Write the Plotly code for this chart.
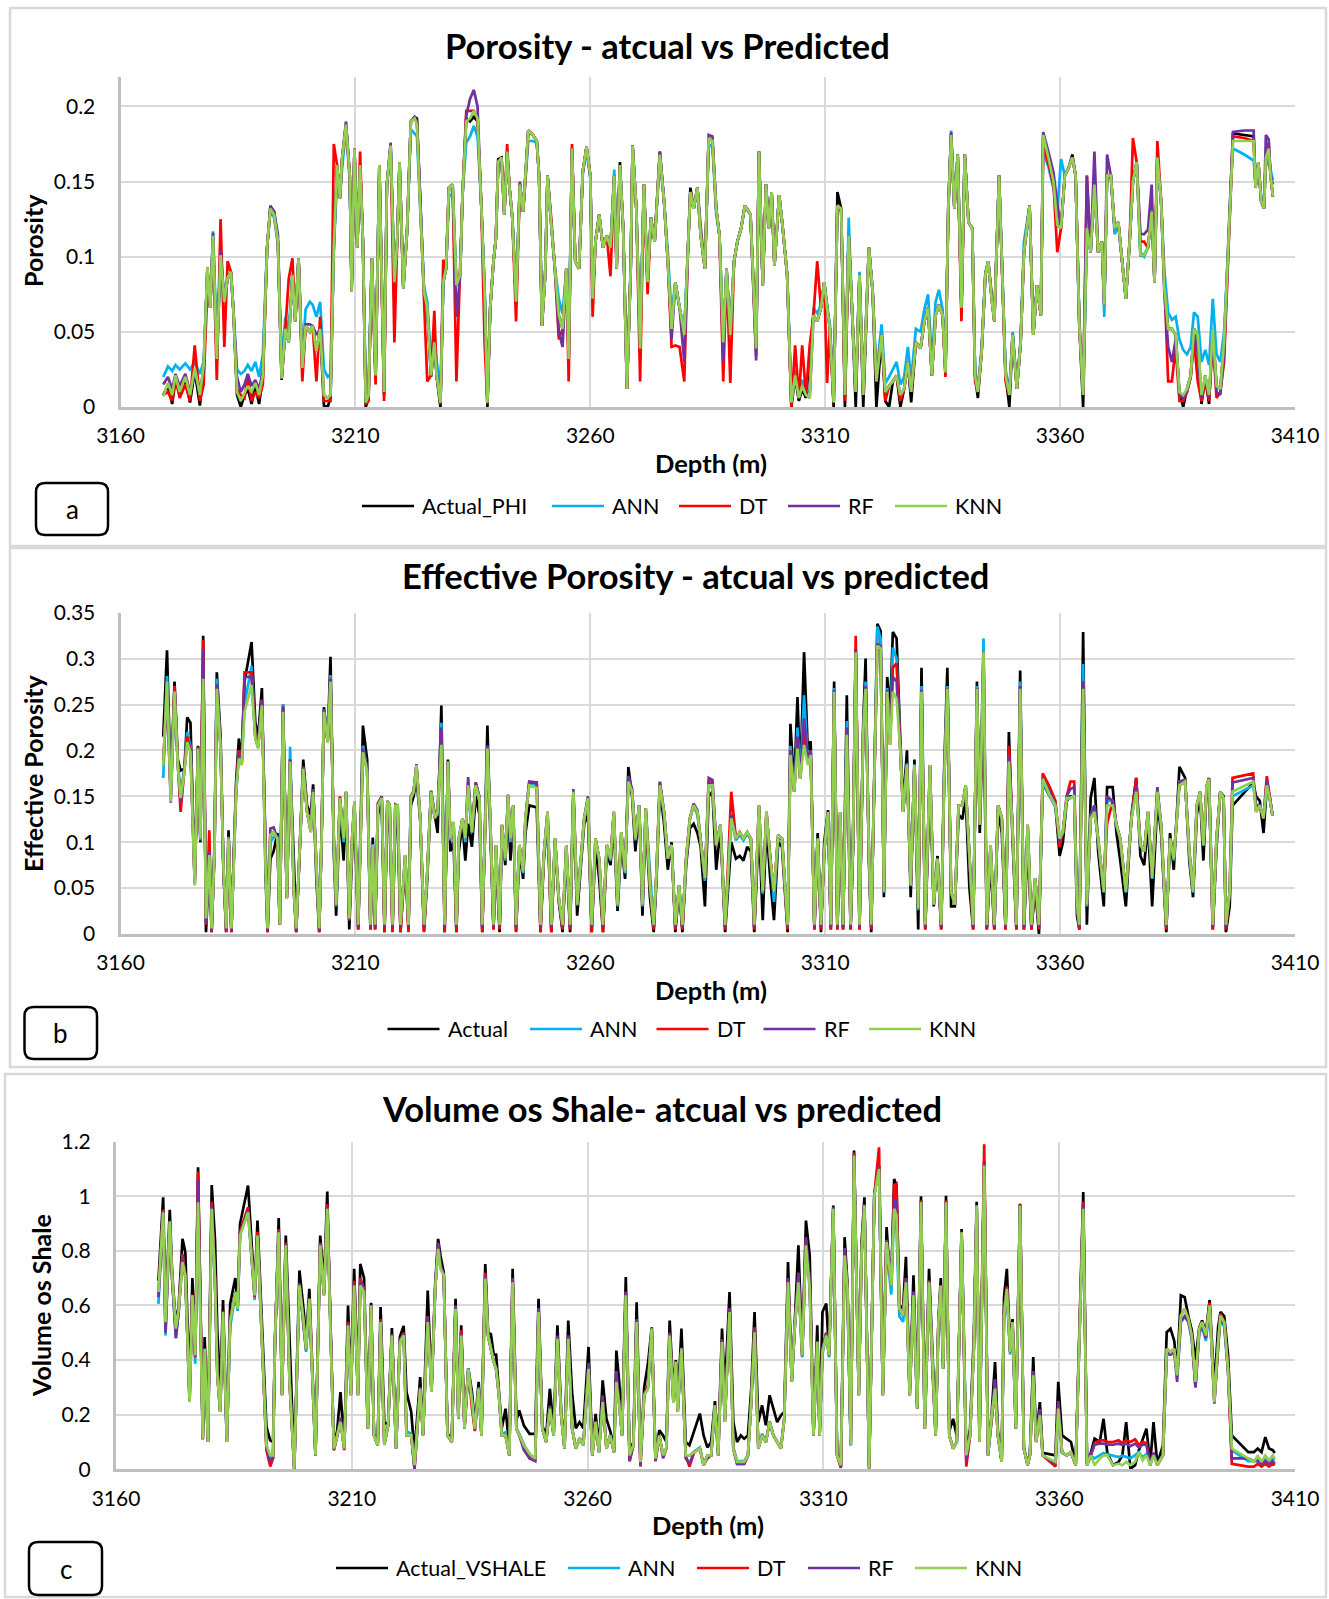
import plotly.graph_objects as go

W, H = 1329, 1599

# ---------------- Panel a : Porosity ----------------
A_DEPTH = [
    3169.1, 3170.1, 3171.0, 3171.7, 3172.6, 3173.8, 3174.8, 3175.8, 3176.9, 3177.7,
    3178.5, 3179.1, 3179.7, 3180.5, 3181.3, 3182.1, 3182.8, 3183.5, 3184.0, 3184.8,
    3185.6, 3186.4, 3187.1, 3187.9, 3188.7, 3189.5, 3190.3, 3191.2, 3191.9, 3192.7,
    3193.5, 3194.3, 3195.1, 3195.8, 3196.6, 3197.2, 3197.9, 3198.7, 3199.4, 3200.3,
    3200.9, 3201.7, 3202.5, 3203.3, 3204.1, 3204.7, 3205.4, 3206.1, 3206.7, 3207.2,
    3208.0, 3208.8, 3209.2, 3209.8, 3210.4, 3211.0, 3211.6, 3212.2, 3212.8, 3213.5,
    3214.3, 3215.1, 3216.1, 3216.7, 3217.5, 3218.3, 3218.9, 3219.4, 3220.2, 3221.0,
    3221.8, 3222.6, 3223.1, 3223.8, 3224.6, 3225.3, 3226.1, 3226.8, 3227.3, 3228.1,
    3228.7, 3229.3, 3229.9, 3230.7, 3231.5, 3232.3, 3232.8, 3233.6, 3234.4, 3235.2,
    3236.0, 3236.8, 3237.5, 3238.1, 3238.7, 3239.4, 3239.9, 3240.4, 3241.1, 3241.7,
    3242.3, 3242.8, 3243.4, 3244.2, 3245.0, 3245.7, 3246.2, 3246.8, 3247.8, 3248.6,
    3249.1, 3249.7, 3250.4, 3250.9, 3251.7, 3252.5, 3253.3, 3254.1, 3254.9, 3255.4,
    3256.1, 3256.8, 3257.6, 3258.4, 3259.2, 3260.0, 3260.5, 3261.1, 3261.9, 3262.7,
    3263.5, 3264.3, 3265.1, 3265.6, 3266.3, 3267.0, 3267.8, 3268.6, 3269.0, 3269.8,
    3270.6, 3271.4, 3272.2, 3272.9, 3273.7, 3274.8, 3275.7, 3276.5, 3277.3, 3278.1,
    3279.0, 3280.0, 3280.8, 3281.3, 3282.0, 3282.8, 3283.5, 3284.4, 3285.2, 3286.0,
    3286.8, 3287.5, 3288.3, 3289.0, 3289.8, 3290.6, 3291.3, 3292.1, 3292.9, 3294.1,
    3295.3, 3295.9, 3296.7, 3297.4, 3298.0, 3298.6, 3299.2, 3300.2, 3300.9, 3301.9,
    3302.8, 3303.6, 3304.4, 3305.1, 3305.9, 3306.7, 3307.5, 3308.3, 3309.1, 3309.8,
    3310.4, 3311.0, 3311.8, 3312.6, 3313.4, 3314.2, 3315.0, 3315.7, 3316.5, 3317.3,
    3318.1, 3319.3, 3320.1, 3320.9, 3322.0, 3322.8, 3323.6, 3324.4, 3325.2, 3326.0,
    3326.8, 3327.6, 3328.3, 3329.3, 3330.3, 3331.1, 3331.9, 3332.7, 3333.5, 3334.2,
    3335.0, 3335.6, 3336.2, 3336.8, 3337.5, 3338.2, 3339.0, 3339.7, 3340.5, 3341.3,
    3341.9, 3342.5, 3343.3, 3344.1, 3344.7, 3345.5, 3346.0, 3347.0, 3347.7, 3348.4,
    3349.2, 3349.9, 3350.8, 3351.6, 3352.3, 3353.5, 3354.3, 3355.1, 3355.9, 3356.4,
    3357.5, 3358.6, 3359.4, 3360.2, 3361.0, 3361.8, 3362.6, 3363.3, 3364.1, 3364.9,
    3365.7, 3366.5, 3367.3, 3368.1, 3368.9, 3369.4, 3370.0, 3370.8, 3371.6, 3372.4,
    3373.2, 3374.0, 3374.8, 3375.5, 3376.3, 3377.1, 3377.9, 3378.7, 3379.5, 3380.1,
    3380.7, 3381.5, 3382.2, 3383.0, 3383.8, 3384.6, 3385.4, 3386.2, 3387.0, 3387.8,
    3388.5, 3389.3, 3390.1, 3390.9, 3391.7, 3392.5, 3393.3, 3394.1, 3394.9, 3395.7,
    3396.4, 3396.8, 3399.2, 3401.2, 3401.6, 3402.2, 3402.8, 3403.4, 3403.8, 3404.4,
    3404.8, 3405.3]
A_ACTUAL = [
    .008, .014, .002, .018, .008, .018, .003, .024, .001, .026,
    .092, .066, .112, .030, .100, .070, .085, .090, .066, .008,
    .000, .008, .012, .002, .014, .002, .020, .106, .133, .130,
    .110, .018, .052, .043, .088, .057, .099, .025, .054, .050,
    .054, .037, .052, .001, .000, .006, .106, .161, .139, .166,
    .188, .154, .077, .172, .106, .161, .110, .000, .006, .099,
    .020, .161, .008, .148, .174, .083, .110, .163, .079, .117,
    .190, .193, .192, .132, .077, .066, .020, .043, .020, .000,
    .083, .092, .146, .148, .081, .088, .141, .192, .190, .193,
    .190, .134, .077, .000, .066, .097, .112, .165, .166, .128,
    .170, .146, .126, .070, .148, .130, .152, .184, .181, .177,
    .154, .054, .088, .154, .121, .090, .061, .052, .092, .032,
    .172, .097, .092, .157, .173, .154, .072, .110, .128, .106,
    .114, .106, .154, .092, .163, .119, .012, .092, .174, .132,
    .039, .148, .083, .126, .110, .170, .137, .097, .052, .083,
    .066, .048, .106, .146, .132, .146, .114, .092, .179, .177,
    .132, .114, .043, .092, .048, .097, .110, .119, .134, .128,
    .039, .170, .081, .148, .119, .143, .094, .141, .121, .088,
    .000, .020, .004, .012, .006, .035, .061, .057, .066, .083,
    .066, .052, .000, .143, .132, .000, .114, .066, .000, .088,
    .000, .106, .077, .000, .048, .004, .000, .017, .021, .000,
    .012, .030, .003, .043, .039, .057, .066, .021, .061, .068,
    .061, .023, .132, .181, .132, .168, .066, .168, .123, .119,
    .021, .006, .037, .088, .097, .070, .057, .154, .088, .021,
    .000, .048, .012, .043, .103, .134, .048, .081, .061, .181,
    .168, .152, .121, .119, .154, .159, .168, .154, .054, .000,
    .119, .103, .148, .103, .110, .068, .154, .154, .119, .123,
    .097, .072, .110, .150, .163, .101, .101, .106, .130, .083,
    .166, .137, .079, .052, .052, .048, .010, .000, .012, .021,
    .052, .048, .002, .021, .002, .052, .014, .012, .043, .097,
    .150, .182, .181, .180, .146, .163, .137, .132, .166, .172,
    .154, .140]
A_ANN = [
    .020, .027, .024, .028, .025, .029, .025, .030, .022, .030,
    .090, .066, .117, .040, .100, .072, .086, .088, .066, .025,
    .022, .024, .028, .024, .030, .020, .035, .106, .130, .126,
    .108, .030, .060, .050, .088, .060, .099, .030, .065, .070,
    .068, .060, .070, .025, .020, .022, .106, .150, .139, .160,
    .185, .150, .080, .170, .106, .158, .110, .010, .015, .099,
    .030, .158, .015, .148, .172, .085, .110, .160, .085, .117,
    .185, .182, .180, .132, .080, .070, .030, .050, .030, .010,
    .083, .092, .140, .142, .081, .088, .140, .176, .180, .187,
    .180, .134, .080, .010, .066, .097, .112, .160, .163, .128,
    .168, .146, .126, .075, .148, .130, .150, .177, .177, .176,
    .154, .060, .090, .154, .121, .092, .072, .062, .092, .040,
    .170, .097, .092, .157, .170, .152, .075, .110, .128, .106,
    .114, .106, .158, .092, .160, .119, .015, .092, .172, .132,
    .042, .148, .083, .126, .110, .165, .137, .103, .062, .083,
    .066, .052, .106, .143, .132, .146, .114, .092, .175, .173,
    .128, .114, .045, .092, .050, .097, .110, .119, .134, .128,
    .040, .168, .081, .148, .119, .143, .094, .141, .121, .088,
    .008, .025, .010, .018, .012, .010, .066, .062, .068, .083,
    .066, .055, .008, .130, .132, .012, .126, .066, .012, .090,
    .012, .106, .077, .022, .055, .016, .020, .025, .030, .015,
    .020, .040, .018, .052, .050, .065, .075, .030, .070, .078,
    .065, .028, .128, .184, .132, .168, .066, .168, .123, .119,
    .025, .012, .040, .090, .097, .070, .060, .154, .088, .025,
    .010, .050, .015, .045, .110, .134, .050, .081, .061, .170,
    .160, .145, .130, .165, .154, .159, .166, .154, .058, .010,
    .119, .103, .145, .103, .110, .060, .154, .154, .115, .120,
    .097, .072, .110, .150, .163, .103, .100, .106, .128, .083,
    .166, .137, .090, .063, .058, .060, .045, .038, .035, .040,
    .063, .060, .030, .038, .028, .072, .035, .030, .050, .097,
    .150, .172, .168, .164, .150, .160, .140, .138, .160, .165,
    .158, .151]
A_DT = [
    .008, .010, .004, .020, .006, .015, .004, .041, .004, .015,
    .080, .066, .112, .018, .125, .040, .097, .090, .066, .012,
    .008, .006, .020, .004, .010, .006, .015, .106, .132, .128,
    .110, .019, .052, .085, .099, .057, .099, .017, .054, .050,
    .054, .017, .060, .004, .004, .004, .175, .161, .139, .166,
    .188, .154, .077, .172, .106, .170, .110, .002, .004, .099,
    .015, .161, .004, .148, .174, .043, .110, .163, .079, .117,
    .190, .192, .190, .132, .077, .017, .021, .064, .021, .002,
    .098, .092, .146, .148, .017, .088, .141, .197, .197, .197,
    .192, .134, .043, .002, .066, .097, .112, .163, .166, .128,
    .175, .146, .126, .057, .148, .130, .152, .184, .181, .177,
    .154, .054, .088, .154, .125, .090, .045, .052, .092, .017,
    .175, .097, .092, .157, .173, .154, .060, .110, .128, .106,
    .114, .087, .154, .092, .160, .119, .012, .092, .174, .132,
    .017, .148, .075, .126, .110, .168, .137, .097, .040, .041,
    .040, .017, .106, .143, .132, .146, .114, .092, .179, .177,
    .132, .114, .017, .092, .016, .097, .110, .119, .134, .128,
    .034, .170, .081, .148, .119, .143, .094, .141, .121, .088,
    .000, .041, .006, .041, .008, .041, .061, .097, .066, .083,
    .016, .052, .003, .134, .132, .004, .114, .066, .010, .088,
    .008, .106, .077, .017, .048, .004, .014, .017, .021, .004,
    .012, .030, .010, .043, .039, .057, .066, .021, .061, .068,
    .061, .020, .132, .181, .132, .168, .057, .168, .123, .119,
    .017, .010, .037, .088, .097, .070, .057, .154, .088, .017,
    .008, .048, .012, .043, .103, .134, .048, .081, .061, .175,
    .162, .148, .103, .119, .154, .159, .166, .154, .054, .008,
    .154, .103, .148, .103, .110, .068, .154, .154, .119, .123,
    .097, .072, .110, .179, .163, .110, .110, .106, .130, .083,
    .177, .137, .083, .017, .017, .040, .004, .004, .010, .020,
    .045, .017, .004, .017, .004, .045, .006, .010, .030, .097,
    .150, .180, .179, .177, .146, .163, .137, .132, .167, .176,
    .154, .140]
A_RF = [
    .015, .020, .012, .022, .014, .022, .010, .022, .012, .024,
    .093, .066, .116, .032, .105, .070, .086, .090, .066, .020,
    .010, .015, .022, .014, .018, .012, .024, .106, .134, .130,
    .115, .019, .052, .043, .088, .057, .099, .026, .055, .055,
    .054, .048, .052, .008, .006, .008, .106, .161, .139, .166,
    .190, .154, .077, .172, .106, .161, .110, .003, .008, .099,
    .021, .161, .010, .148, .176, .083, .110, .163, .079, .117,
    .190, .193, .190, .132, .077, .066, .021, .043, .021, .003,
    .083, .092, .146, .148, .060, .088, .141, .194, .205, .211,
    .200, .134, .077, .003, .066, .097, .112, .163, .166, .128,
    .170, .146, .126, .070, .150, .130, .152, .184, .181, .177,
    .154, .054, .088, .154, .121, .090, .050, .040, .092, .032,
    .172, .097, .092, .155, .173, .154, .072, .110, .128, .106,
    .114, .106, .154, .092, .160, .119, .012, .092, .174, .132,
    .039, .148, .083, .126, .110, .170, .137, .097, .045, .083,
    .066, .030, .106, .143, .132, .146, .120, .092, .181, .180,
    .132, .114, .030, .092, .048, .097, .110, .119, .134, .128,
    .031, .170, .081, .148, .119, .143, .094, .141, .121, .088,
    .003, .021, .006, .014, .008, .006, .061, .057, .066, .083,
    .066, .052, .003, .134, .132, .008, .114, .066, .010, .088,
    .008, .106, .077, .017, .048, .010, .014, .017, .021, .008,
    .012, .030, .010, .043, .039, .057, .066, .021, .061, .068,
    .061, .023, .134, .183, .132, .168, .066, .168, .123, .119,
    .021, .010, .037, .088, .097, .070, .057, .154, .088, .021,
    .008, .048, .012, .043, .103, .134, .048, .081, .061, .183,
    .170, .156, .135, .119, .154, .159, .166, .154, .054, .008,
    .154, .103, .170, .103, .110, .068, .168, .154, .119, .123,
    .097, .072, .110, .150, .163, .115, .115, .118, .148, .083,
    .166, .137, .075, .040, .030, .045, .008, .006, .010, .020,
    .050, .035, .006, .020, .006, .050, .010, .008, .035, .097,
    .150, .183, .184, .184, .146, .163, .137, .132, .181, .178,
    .154, .148]
A_KNN = [
    .007, .016, .008, .021, .010, .020, .008, .026, .008, .028,
    .093, .066, .114, .032, .101, .070, .086, .090, .066, .010,
    .004, .010, .014, .010, .016, .008, .021, .106, .132, .128,
    .110, .019, .052, .043, .088, .057, .099, .026, .054, .050,
    .054, .037, .052, .008, .006, .008, .106, .161, .139, .166,
    .188, .154, .077, .172, .106, .161, .110, .003, .008, .099,
    .021, .161, .010, .148, .174, .083, .110, .163, .079, .117,
    .190, .192, .188, .132, .077, .066, .021, .043, .021, .003,
    .083, .092, .146, .148, .081, .088, .141, .190, .192, .197,
    .192, .134, .077, .003, .066, .097, .112, .163, .166, .128,
    .170, .146, .126, .070, .148, .130, .152, .184, .181, .177,
    .154, .054, .088, .154, .121, .090, .061, .052, .092, .032,
    .172, .097, .092, .157, .173, .154, .072, .110, .128, .106,
    .114, .106, .154, .092, .161, .119, .012, .092, .174, .132,
    .039, .148, .083, .126, .110, .168, .137, .097, .052, .083,
    .066, .048, .106, .143, .132, .146, .114, .092, .179, .177,
    .132, .114, .043, .092, .048, .097, .110, .119, .134, .128,
    .039, .170, .081, .148, .119, .143, .094, .141, .121, .088,
    .003, .021, .006, .014, .008, .006, .061, .057, .066, .083,
    .066, .052, .003, .134, .132, .008, .114, .066, .010, .088,
    .008, .106, .077, .017, .048, .010, .014, .017, .021, .008,
    .012, .030, .010, .043, .039, .057, .066, .021, .061, .068,
    .061, .023, .132, .181, .132, .168, .066, .168, .123, .119,
    .021, .010, .037, .088, .097, .070, .057, .154, .088, .021,
    .008, .048, .012, .043, .103, .134, .048, .081, .061, .181,
    .166, .150, .121, .119, .154, .159, .166, .154, .054, .008,
    .119, .103, .148, .103, .110, .068, .154, .154, .119, .123,
    .097, .072, .110, .150, .163, .101, .101, .106, .130, .083,
    .166, .137, .079, .052, .052, .048, .010, .008, .012, .021,
    .052, .048, .008, .021, .008, .052, .014, .012, .043, .097,
    .150, .177, .177, .177, .146, .163, .137, .132, .166, .172,
    .154, .140]

# ---------------- Panel b : Effective porosity ----------------
B_DEPTH = [
    3169.1, 3169.9, 3170.7, 3171.5, 3172.2, 3172.8, 3173.6, 3174.2, 3174.9, 3175.8,
    3176.5, 3177.0, 3177.6, 3178.2, 3178.9, 3179.4, 3180.0, 3180.5, 3181.3, 3181.9,
    3182.5, 3183.0, 3183.6, 3184.0, 3184.6, 3185.2, 3185.8, 3186.4, 3187.9, 3188.7,
    3189.3, 3190.1, 3190.9, 3191.3, 3191.9, 3192.6, 3193.4, 3193.9, 3194.6, 3195.4,
    3196.1, 3196.9, 3197.4, 3198.2, 3198.9, 3199.7, 3200.5, 3201.0, 3201.7, 3202.3,
    3202.8, 3203.3, 3204.1, 3204.7, 3205.4, 3205.9, 3206.7, 3207.5, 3208.0, 3208.7,
    3209.3, 3209.8, 3210.6, 3211.6, 3212.5, 3213.2, 3213.7, 3214.2, 3214.8, 3215.6,
    3216.2, 3216.8, 3217.3, 3217.9, 3218.5, 3219.0, 3219.6, 3220.6, 3221.3, 3221.8,
    3222.4, 3223.0, 3223.8, 3224.6, 3225.3, 3226.1, 3226.9, 3227.5, 3228.3, 3229.0,
    3229.7, 3230.2, 3230.9, 3231.5, 3232.0, 3232.8, 3233.4, 3234.0, 3234.8, 3235.6,
    3236.4, 3237.0, 3237.6, 3238.1, 3238.7, 3239.4, 3239.9, 3240.7, 3241.2, 3241.9,
    3242.5, 3243.0, 3243.6, 3244.2, 3244.9, 3245.7, 3246.2, 3247.0, 3248.6, 3249.4,
    3250.1, 3250.9, 3251.7, 3252.5, 3253.3, 3254.1, 3254.9, 3255.7, 3256.4, 3257.2,
    3258.0, 3258.7, 3259.5, 3260.3, 3261.1, 3261.9, 3262.7, 3263.5, 3264.3, 3265.0,
    3265.8, 3266.6, 3267.4, 3268.1, 3268.9, 3269.6, 3270.4, 3271.1, 3271.8, 3272.7,
    3273.5, 3274.1, 3274.8, 3275.7, 3276.5, 3277.3, 3278.1, 3278.9, 3279.6, 3280.4,
    3281.2, 3282.0, 3282.8, 3283.5, 3284.4, 3285.2, 3286.0, 3286.8, 3287.7, 3288.7,
    3290.0, 3291.0, 3291.8, 3292.6, 3293.4, 3294.2, 3294.9, 3295.9, 3296.7, 3297.5,
    3298.3, 3299.1, 3300.0, 3300.8, 3302.0, 3302.6, 3303.4, 3304.1, 3304.7, 3305.5,
    3306.3, 3306.9, 3307.7, 3308.4, 3309.1, 3309.8, 3310.6, 3311.2, 3311.9, 3312.6,
    3313.2, 3313.8, 3314.6, 3315.4, 3315.9, 3316.5, 3317.3, 3318.1, 3318.6, 3319.3,
    3319.8, 3320.4, 3321.1, 3321.8, 3322.5, 3323.2, 3323.8, 3324.4, 3325.2, 3326.0,
    3326.6, 3327.4, 3328.2, 3329.0, 3329.8, 3330.5, 3331.3, 3332.3, 3333.1, 3333.9,
    3334.7, 3335.3, 3336.0, 3336.8, 3337.6, 3338.4, 3339.2, 3339.9, 3340.7, 3341.5,
    3342.3, 3342.9, 3343.7, 3344.4, 3345.2, 3346.0, 3346.8, 3347.6, 3348.4, 3349.1,
    3349.9, 3350.7, 3351.5, 3352.3, 3353.1, 3353.9, 3354.7, 3355.5, 3356.3, 3357.8,
    3359.0, 3359.9, 3360.6, 3361.4, 3362.2, 3363.0, 3363.6, 3364.1, 3364.9, 3365.7,
    3366.5, 3367.3, 3368.1, 3369.3, 3370.0, 3371.2, 3372.0, 3372.8, 3374.0, 3375.2,
    3376.2, 3377.1, 3377.9, 3378.7, 3379.6, 3380.7, 3381.5, 3382.6, 3383.4, 3384.2,
    3385.4, 3386.6, 3387.5, 3388.3, 3389.1, 3389.8, 3390.5, 3391.2, 3391.7, 3392.5,
    3393.3, 3394.1, 3394.8, 3395.3, 3396.1, 3396.7, 3401.1, 3401.7, 3402.5, 3403.3,
    3404.0, 3404.6, 3405.2]
B_ACTUAL = [
    .215, .309, .160, .275, .190, .178, .180, .236, .230, .060,
    .205, .100, .325, .002, .080, .002, .095, .285, .215, .070,
    .002, .113, .002, .060, .165, .213, .190, .275, .318, .230,
    .215, .268, .060, .002, .082, .090, .110, .010, .250, .040,
    .185, .080, .002, .098, .190, .140, .130, .163, .060, .002,
    .105, .247, .210, .302, .090, .020, .135, .080, .150, .005,
    .090, .130, .005, .227, .190, .005, .105, .005, .130, .145,
    .002, .140, .120, .003, .125, .120, .002, .080, .005, .140,
    .150, .170, .125, .003, .060, .156, .130, .110, .249, .002,
    .190, .090, .100, .002, .090, .120, .080, .120, .095, .150,
    .130, .002, .120, .227, .115, .005, .085, .002, .115, .075,
    .145, .080, .130, .003, .090, .060, .110, .140, .138, .002,
    .080, .125, .002, .100, .035, .002, .090, .002, .150, .020,
    .075, .120, .130, .002, .095, .060, .002, .090, .075, .120,
    .025, .100, .060, .182, .150, .090, .140, .020, .130, .040,
    .002, .060, .160, .120, .070, .100, .002, .050, .002, .075,
    .115, .120, .110, .095, .030, .150, .155, .070, .115, .002,
    .100, .082, .085, .080, .095, .090, .002, .120, .015, .120,
    .060, .015, .100, .095, .002, .229, .160, .258, .170, .307,
    .200, .210, .005, .110, .002, .100, .135, .005, .275, .005,
    .130, .005, .260, .005, .090, .310, .005, .230, .300, .080,
    .002, .160, .338, .330, .040, .280, .240, .329, .322, .210,
    .140, .200, .040, .190, .005, .290, .005, .170, .030, .085,
    .005, .175, .290, .030, .030, .130, .125, .150, .050, .005,
    .275, .110, .260, .005, .080, .005, .135, .110, .005, .220,
    .100, .005, .287, .005, .100, .005, .050, .000, .165, .150,
    .140, .085, .100, .145, .150, .150, .020, .005, .329, .010,
    .148, .170, .090, .030, .160, .160, .110, .080, .030, .130,
    .170, .085, .075, .120, .030, .145, .110, .002, .110, .070,
    .182, .170, .080, .040, .130, .150, .080, .160, .170, .005,
    .095, .155, .150, .002, .030, .140, .165, .150, .145, .110,
    .160, .150, .130]
B_ANN = [
    .170, .281, .150, .265, .186, .155, .180, .220, .205, .055,
    .203, .102, .290, .012, .085, .005, .090, .278, .205, .073,
    .005, .106, .005, .058, .150, .200, .186, .250, .292, .218,
    .205, .255, .066, .005, .100, .106, .105, .010, .250, .040,
    .204, .050, .005, .097, .182, .134, .115, .157, .072, .005,
    .104, .245, .210, .282, .100, .030, .146, .100, .154, .015,
    .100, .140, .010, .205, .180, .010, .098, .010, .138, .147,
    .008, .143, .138, .008, .138, .136, .008, .085, .008, .147,
    .155, .182, .126, .008, .066, .155, .127, .130, .230, .008,
    .188, .102, .118, .008, .102, .125, .100, .160, .110, .165,
    .145, .008, .113, .205, .124, .008, .095, .008, .118, .080,
    .150, .100, .138, .008, .096, .066, .124, .164, .162, .008,
    .085, .131, .008, .103, .038, .008, .096, .008, .154, .031,
    .080, .125, .146, .008, .102, .080, .008, .096, .080, .131,
    .030, .108, .066, .172, .155, .102, .140, .030, .136, .065,
    .008, .068, .162, .131, .082, .097, .008, .052, .008, .081,
    .125, .140, .130, .102, .058, .162, .160, .096, .119, .008,
    .126, .102, .108, .102, .110, .102, .008, .138, .044, .131,
    .080, .035, .105, .103, .008, .205, .156, .225, .170, .260,
    .188, .200, .008, .104, .008, .092, .133, .008, .268, .008,
    .132, .008, .232, .008, .092, .310, .008, .222, .275, .088,
    .008, .156, .335, .322, .045, .268, .215, .312, .300, .200,
    .134, .186, .052, .185, .026, .270, .008, .182, .032, .082,
    .008, .170, .270, .045, .032, .140, .140, .160, .080, .008,
    .270, .119, .322, .008, .096, .008, .140, .126, .008, .195,
    .110, .008, .275, .008, .118, .008, .060, .008, .166, .150,
    .138, .104, .110, .147, .148, .151, .030, .008, .294, .030,
    .130, .140, .103, .045, .145, .145, .118, .103, .045, .128,
    .158, .096, .090, .132, .060, .156, .118, .008, .104, .080,
    .166, .166, .088, .045, .140, .155, .096, .160, .165, .008,
    .103, .155, .148, .008, .045, .150, .162, .140, .140, .128,
    .160, .150, .129]
B_DT = [
    .185, .262, .150, .270, .186, .133, .180, .215, .200, .055,
    .204, .104, .320, .010, .113, .002, .088, .270, .204, .072,
    .002, .104, .002, .058, .158, .200, .186, .285, .285, .215,
    .205, .255, .066, .002, .108, .111, .104, .010, .245, .039,
    .190, .046, .002, .097, .182, .134, .112, .155, .075, .002,
    .104, .243, .209, .278, .104, .032, .150, .104, .155, .015,
    .104, .144, .005, .200, .178, .005, .097, .005, .142, .150,
    .002, .144, .140, .002, .140, .140, .002, .086, .002, .148,
    .155, .184, .126, .002, .068, .155, .126, .133, .220, .002,
    .188, .104, .122, .002, .104, .126, .104, .165, .111, .165,
    .148, .002, .111, .200, .126, .005, .097, .005, .119, .082,
    .151, .104, .140, .002, .097, .068, .126, .165, .165, .002,
    .086, .133, .002, .104, .039, .005, .097, .005, .155, .032,
    .082, .126, .148, .002, .104, .082, .002, .097, .082, .133,
    .032, .111, .068, .166, .155, .104, .140, .032, .137, .053,
    .005, .068, .165, .133, .082, .097, .005, .053, .005, .082,
    .126, .140, .133, .104, .061, .165, .165, .097, .119, .005,
    .155, .104, .111, .104, .111, .104, .005, .140, .046, .133,
    .082, .046, .108, .104, .005, .200, .155, .210, .169, .220,
    .188, .200, .005, .104, .005, .090, .133, .005, .264, .005,
    .133, .005, .220, .005, .093, .325, .005, .220, .267, .090,
    .005, .155, .316, .313, .046, .264, .206, .290, .295, .198,
    .133, .184, .053, .184, .028, .264, .005, .184, .032, .082,
    .005, .162, .267, .046, .032, .140, .140, .162, .082, .005,
    .267, .119, .307, .005, .097, .005, .140, .126, .005, .205,
    .111, .005, .267, .005, .119, .005, .061, .005, .175, .160,
    .145, .095, .111, .150, .166, .166, .032, .005, .275, .032,
    .126, .133, .104, .046, .120, .145, .119, .104, .046, .126,
    .170, .097, .090, .133, .061, .155, .119, .005, .104, .082,
    .162, .166, .090, .046, .140, .155, .097, .162, .169, .005,
    .104, .155, .148, .005, .046, .170, .175, .133, .140, .126,
    .172, .148, .129]
B_RF = [
    .185, .268, .143, .264, .184, .142, .178, .210, .200, .056,
    .203, .104, .310, .012, .090, .004, .088, .272, .204, .075,
    .004, .104, .004, .058, .156, .196, .185, .280, .280, .213,
    .203, .255, .068, .004, .115, .116, .104, .010, .248, .039,
    .190, .046, .004, .097, .182, .133, .111, .158, .075, .004,
    .104, .245, .209, .278, .104, .032, .149, .104, .155, .015,
    .104, .144, .008, .202, .178, .008, .097, .008, .142, .150,
    .008, .145, .141, .008, .141, .140, .008, .086, .008, .150,
    .156, .185, .126, .008, .068, .155, .126, .134, .225, .008,
    .188, .104, .122, .008, .104, .126, .104, .171, .111, .165,
    .150, .008, .111, .205, .126, .008, .097, .008, .119, .082,
    .152, .104, .140, .008, .097, .068, .126, .166, .165, .008,
    .086, .133, .008, .104, .039, .008, .097, .008, .158, .032,
    .082, .126, .150, .008, .104, .082, .008, .097, .082, .133,
    .032, .111, .068, .172, .158, .104, .140, .032, .137, .053,
    .008, .068, .166, .133, .082, .097, .008, .053, .008, .082,
    .126, .142, .135, .104, .061, .170, .168, .097, .119, .008,
    .130, .104, .111, .104, .111, .104, .008, .140, .046, .133,
    .082, .046, .108, .104, .008, .200, .155, .215, .169, .235,
    .190, .200, .008, .104, .008, .090, .133, .008, .266, .008,
    .133, .008, .225, .008, .093, .310, .008, .222, .270, .090,
    .008, .155, .316, .313, .046, .266, .215, .280, .275, .198,
    .133, .184, .053, .184, .028, .266, .008, .184, .032, .082,
    .008, .162, .268, .046, .032, .140, .140, .162, .082, .008,
    .268, .119, .305, .008, .097, .008, .140, .126, .008, .195,
    .111, .008, .270, .008, .119, .008, .061, .008, .170, .155,
    .142, .100, .111, .150, .158, .160, .032, .008, .275, .032,
    .130, .140, .104, .046, .150, .145, .119, .104, .046, .126,
    .162, .097, .090, .133, .061, .160, .119, .008, .104, .082,
    .166, .168, .090, .046, .140, .155, .097, .162, .169, .008,
    .104, .155, .148, .008, .046, .165, .170, .140, .140, .126,
    .168, .150, .129]
B_KNN = [
    .184, .275, .144, .264, .184, .148, .177, .209, .198, .053,
    .202, .104, .278, .017, .086, .006, .086, .267, .202, .075,
    .006, .104, .006, .057, .155, .191, .184, .242, .271, .213,
    .202, .249, .068, .006, .108, .111, .104, .010, .242, .039,
    .188, .046, .006, .097, .180, .133, .111, .155, .075, .006,
    .104, .242, .209, .275, .104, .032, .148, .104, .155, .017,
    .104, .144, .010, .198, .177, .010, .097, .010, .140, .148,
    .010, .144, .140, .010, .140, .140, .010, .086, .010, .148,
    .155, .184, .126, .010, .068, .155, .126, .133, .206, .010,
    .188, .104, .122, .010, .104, .126, .104, .162, .111, .162,
    .148, .010, .111, .202, .126, .010, .097, .010, .119, .082,
    .151, .104, .140, .010, .097, .068, .126, .162, .159, .010,
    .086, .133, .010, .104, .039, .010, .097, .010, .155, .032,
    .082, .126, .148, .010, .104, .082, .010, .097, .082, .133,
    .032, .111, .068, .166, .155, .104, .140, .032, .137, .053,
    .010, .068, .162, .133, .082, .097, .010, .053, .010, .082,
    .126, .140, .133, .104, .061, .162, .162, .097, .119, .010,
    .126, .104, .111, .104, .111, .104, .010, .140, .046, .133,
    .082, .046, .108, .104, .010, .195, .155, .202, .169, .206,
    .184, .195, .010, .104, .010, .090, .133, .010, .264, .010,
    .133, .010, .217, .010, .093, .307, .010, .220, .267, .090,
    .010, .155, .314, .311, .046, .264, .206, .264, .256, .198,
    .133, .184, .053, .184, .028, .264, .010, .184, .032, .082,
    .010, .162, .267, .046, .032, .140, .140, .162, .082, .010,
    .267, .119, .307, .010, .097, .010, .140, .126, .010, .188,
    .111, .010, .267, .010, .119, .010, .061, .010, .169, .151,
    .140, .104, .111, .148, .148, .151, .032, .010, .267, .032,
    .126, .133, .104, .046, .140, .140, .119, .104, .046, .126,
    .155, .097, .090, .133, .061, .155, .119, .010, .104, .082,
    .162, .166, .090, .046, .140, .155, .097, .162, .169, .010,
    .104, .155, .148, .010, .046, .155, .166, .133, .140, .126,
    .162, .148, .129]

# ---------------- Panel c : Volume of shale ----------------
C_DEPTH = [
    3169.0, 3170.0, 3170.5, 3171.4, 3171.9, 3172.7, 3173.3, 3174.1, 3174.7, 3175.6,
    3176.2, 3176.8, 3177.4, 3178.4, 3178.8, 3179.5, 3180.3, 3181.0, 3181.5, 3182.1,
    3182.7, 3183.5, 3184.2, 3185.3, 3185.8, 3186.3, 3188.0, 3188.9, 3189.4, 3190.0,
    3191.9, 3192.7, 3193.3, 3193.7, 3194.5, 3195.2, 3196.0, 3196.8, 3197.8, 3198.9,
    3199.8, 3200.3, 3201.0, 3202.3, 3203.3, 3204.1, 3204.8, 3205.5, 3206.2, 3206.9,
    3207.6, 3208.4, 3209.2, 3209.8, 3210.5, 3211.3, 3211.8, 3212.6, 3213.4, 3214.1,
    3214.7, 3215.5, 3216.1, 3216.9, 3217.7, 3218.5, 3219.4, 3220.2, 3221.0, 3221.6,
    3222.6, 3223.3, 3224.5, 3225.1, 3226.1, 3226.9, 3227.7, 3228.3, 3228.8, 3229.5,
    3230.3, 3231.2, 3232.0, 3232.6, 3233.2, 3233.9, 3234.7, 3235.5, 3236.1, 3236.9,
    3237.5, 3238.3, 3238.9, 3239.5, 3240.1, 3240.6, 3241.2, 3241.8, 3242.6, 3243.4,
    3244.1, 3244.9, 3245.5, 3246.5, 3247.7, 3248.9, 3249.6, 3250.4, 3251.2, 3252.0,
    3252.8, 3253.6, 3254.4, 3255.1, 3255.9, 3256.7, 3257.5, 3258.3, 3259.1, 3260.2,
    3261.0, 3261.7, 3262.4, 3263.2, 3264.0, 3264.8, 3265.6, 3266.1, 3266.7, 3267.3,
    3268.1, 3268.9, 3269.7, 3270.4, 3271.2, 3272.0, 3272.8, 3273.6, 3274.4, 3275.2,
    3276.0, 3276.7, 3277.4, 3278.2, 3278.7, 3279.1, 3279.9, 3280.8, 3281.6, 3282.6,
    3283.8, 3284.6, 3285.4, 3286.2, 3287.0, 3287.7, 3288.5, 3289.1, 3290.1, 3290.9,
    3291.7, 3292.5, 3293.2, 3294.0, 3294.7, 3295.4, 3296.2, 3297.0, 3297.8, 3298.6,
    3299.4, 3300.2, 3301.0, 3301.7, 3302.5, 3303.3, 3303.9, 3304.7, 3305.5, 3306.3,
    3307.1, 3307.9, 3308.7, 3309.2, 3309.8, 3310.6, 3311.2, 3312.1, 3312.9, 3313.7,
    3314.5, 3315.1, 3315.8, 3316.5, 3317.5, 3318.1, 3318.7, 3319.7, 3320.8, 3321.8,
    3322.6, 3323.4, 3323.8, 3324.4, 3325.0, 3325.5, 3326.1, 3326.9, 3327.5, 3328.3,
    3329.1, 3329.9, 3330.7, 3331.5, 3332.4, 3333.2, 3333.8, 3334.4, 3334.9, 3335.4,
    3336.0, 3336.7, 3337.5, 3338.3, 3339.3, 3340.3, 3341.1, 3341.9, 3342.5, 3343.1,
    3344.1, 3344.9, 3345.7, 3346.4, 3347.0, 3347.8, 3348.3, 3348.9, 3349.6, 3350.1,
    3350.8, 3351.7, 3352.5, 3353.3, 3353.8, 3354.5, 3355.1, 3355.9, 3356.5, 3359.2,
    3359.8, 3360.6, 3361.6, 3362.5, 3363.5, 3365.1, 3365.9, 3366.7, 3367.5, 3368.6,
    3369.4, 3370.2, 3371.4, 3372.6, 3373.4, 3374.2, 3375.1, 3376.1, 3376.9, 3377.7,
    3378.5, 3379.3, 3380.0, 3380.8, 3382.0, 3382.8, 3383.6, 3384.4, 3385.0, 3385.8,
    3386.6, 3387.4, 3388.1, 3388.9, 3389.7, 3390.3, 3391.1, 3391.9, 3392.9, 3393.7,
    3394.2, 3395.0, 3395.8, 3396.6, 3400.1, 3401.3, 3402.1, 3402.9, 3403.7, 3404.5,
    3405.3, 3405.7]
C_ACTUAL = [
    .690, .996, .560, .950, .720, .530, .600, .844, .795, .300,
    .700, .420, 1.106, .120, .484, .110, 1.041, .838, .500, .300,
    .620, .110, .606, .700, .600, .899, 1.039, .807, .650, .911,
    .155, .106, .100, .450, .920, .300, .856, .478, .010, .728,
    .580, .470, .661, .060, .856, .680, 1.017, .500, .080, .143,
    .283, .090, .600, .300, .734, .300, .752, .700, .160, .610,
    .130, .095, .594, .167, .170, .517, .080, .485, .525, .283,
    .210, .060, .338, .130, .655, .300, .680, .844, .783, .720,
    .130, .110, .624, .200, .527, .160, .370, .280, .160, .320,
    .140, .752, .500, .495, .420, .420, .300, .150, .222, .080,
    .734, .180, .216, .160, .130, .130, .624, .160, .120, .295,
    .150, .527, .210, .090, .545, .283, .150, .173, .150, .448,
    .070, .203, .080, .326, .185, .140, .080, .435, .320, .140,
    .704, .060, .100, .612, .040, .300, .387, .520, .050, .143,
    .124, .100, .545, .280, .400, .230, .515, .100, .088, .137,
    .204, .124, .080, .100, .250, .080, .515, .283, .649, .173,
    .100, .124, .112, .124, .295, .576, .173, .234, .161, .271,
    .222, .173, .198, .210, .759, .330, .530, .820, .430, .911,
    .783, .130, .527, .130, .576, .607, .430, .966, .060, .010,
    .850, .680, .090, 1.167, .280, .832, .996, .010, 1.010, 1.110,
    .280, .887, .780, .690, 1.063, 1.040, .600, .590, .778, .290,
    .710, .240, 1.000, .160, .734, .360, .140, .550, .700, .380,
    1.002, .140, .185, .120, .880, .060, .149, .490, .980, .110,
    1.130, .060, .210, .393, .140, .030, .630, .734, .440, .550,
    .173, .972, .080, .020, .060, .411, .110, .246, .060, .051,
    .320, .124, .112, .100, .020, 1.015, .020, .060, .112, .100,
    .185, .060, .015, .027, .051, .173, .002, .015, .070, .112,
    .149, .020, .173, .020, .088, .502, .515, .470, .360, .637,
    .630, .560, .510, .400, .520, .545, .500, .620, .300, .520,
    .576, .560, .420, .124, .063, .063, .076, .063, .118, .076,
    .070, .060]
C_ANN = [
    .606, .950, .490, .910, .700, .480, .580, .770, .700, .250,
    .630, .387, 1.000, .110, .430, .100, .960, .667, .350, .215,
    .560, .100, .520, .640, .580, .860, .945, .734, .620, .860,
    .090, .040, .050, .470, .875, .275, .825, .330, .005, .680,
    .530, .430, .610, .050, .825, .640, .960, .495, .070, .125,
    .180, .075, .530, .275, .680, .275, .690, .655, .150, .600,
    .125, .090, .545, .095, .160, .495, .075, .470, .495, .140,
    .130, .010, .300, .125, .545, .285, .665, .815, .740, .710,
    .125, .100, .595, .185, .495, .150, .370, .250, .150, .300,
    .125, .705, .490, .445, .395, .370, .275, .130, .135, .050,
    .690, .150, .130, .090, .055, .040, .580, .150, .100, .230,
    .125, .485, .200, .075, .480, .155, .075, .115, .090, .375,
    .050, .175, .063, .250, .080, .125, .063, .330, .240, .125,
    .645, .050, .088, .545, .027, .275, .300, .515, .040, .125,
    .055, .076, .495, .250, .395, .210, .445, .052, .050, .065,
    .080, .018, .051, .051, .235, .051, .470, .180, .580, .080,
    .030, .030, .030, .052, .250, .505, .080, .130, .100, .175,
    .125, .100, .080, .185, .690, .320, .510, .700, .410, .830,
    .660, .124, .470, .124, .420, .495, .410, .955, .051, .012,
    .790, .640, .088, 1.150, .271, .800, .968, .005, 1.003, 1.110,
    .271, .835, .740, .640, .960, .880, .560, .540, .690, .271,
    .640, .222, .980, .149, .690, .340, .124, .530, .670, .368,
    .980, .124, .080, .100, .870, .051, .124, .440, .966, .100,
    1.120, .051, .198, .300, .124, .027, .560, .640, .420, .530,
    .149, .966, .076, .015, .051, .350, .100, .200, .051, .012,
    .225, .060, .051, .060, .015, .960, .030, .050, .040, .050,
    .060, .055, .050, .045, .050, .045, .040, .052, .063, .045,
    .055, .030, .055, .020, .051, .420, .420, .430, .344, .540,
    .560, .540, .480, .310, .500, .520, .470, .590, .250, .450,
    .550, .520, .360, .070, .030, .030, .040, .030, .040, .030,
    .040, .035]
C_DT = [
    .640, .950, .520, .905, .700, .500, .580, .790, .710, .250,
    .640, .410, 1.090, .110, .440, .100, .980, .690, .340, .210,
    .580, .100, .550, .650, .590, .870, .960, .740, .630, .870,
    .070, .010, .040, .466, .880, .271, .830, .320, .000, .680,
    .540, .440, .625, .051, .830, .640, .970, .490, .070, .120,
    .180, .070, .540, .271, .690, .271, .700, .660, .149, .600,
    .124, .088, .550, .090, .161, .495, .076, .470, .500, .124,
    .124, .000, .300, .124, .560, .283, .670, .820, .745, .710,
    .124, .100, .600, .185, .510, .149, .360, .220, .140, .295,
    .124, .720, .490, .441, .393, .368, .271, .124, .124, .051,
    .700, .149, .124, .088, .040, .035, .590, .149, .100, .222,
    .124, .485, .198, .076, .490, .149, .076, .112, .088, .380,
    .051, .173, .063, .250, .076, .124, .063, .340, .240, .124,
    .650, .030, .088, .545, .010, .271, .310, .515, .030, .124,
    .051, .076, .500, .246, .393, .210, .441, .051, .010, .063,
    .076, .015, .051, .051, .234, .051, .475, .173, .590, .076,
    .020, .020, .020, .051, .246, .520, .076, .124, .100, .173,
    .124, .100, .076, .185, .700, .320, .515, .700, .417, .840,
    .680, .124, .470, .124, .440, .500, .417, .960, .051, .005,
    .800, .661, .088, 1.160, .271, .800, .970, .002, 1.005, 1.179,
    .271, .840, .760, .673, 1.040, 1.045, .588, .563, .700, .271,
    .650, .222, .985, .149, .690, .344, .124, .539, .673, .368,
    .985, .124, .076, .100, .868, .010, .124, .445, .966, .100,
    1.190, .051, .198, .300, .124, .027, .580, .670, .429, .539,
    .149, .970, .076, .015, .051, .350, .100, .200, .051, .010,
    .240, .063, .051, .063, .015, .980, .015, .051, .095, .106,
    .106, .100, .100, .106, .095, .106, .100, .110, .090, .100,
    .095, .015, .060, .015, .051, .441, .429, .441, .344, .563,
    .588, .551, .490, .300, .515, .539, .490, .610, .246, .466,
    .570, .539, .368, .020, .010, .010, .020, .010, .020, .010,
    .020, .015]
C_RF = [
    .630, .945, .500, .905, .700, .480, .580, .780, .710, .250,
    .635, .415, 1.060, .110, .441, .100, .970, .690, .344, .210,
    .576, .100, .545, .650, .588, .860, .950, .740, .637, .860,
    .080, .030, .040, .466, .870, .271, .825, .320, .000, .680,
    .539, .441, .625, .051, .825, .637, .960, .490, .076, .124,
    .190, .076, .535, .271, .680, .271, .690, .660, .149, .600,
    .124, .088, .545, .090, .161, .495, .076, .470, .495, .124,
    .124, .002, .300, .124, .560, .283, .665, .830, .750, .710,
    .124, .100, .600, .185, .500, .149, .368, .246, .149, .295,
    .124, .710, .490, .441, .393, .368, .271, .124, .124, .051,
    .700, .149, .124, .070, .040, .030, .590, .149, .100, .230,
    .124, .490, .198, .076, .490, .149, .076, .112, .088, .390,
    .051, .173, .063, .270, .076, .124, .063, .360, .250, .124,
    .650, .030, .088, .550, .015, .271, .300, .515, .030, .124,
    .040, .076, .500, .246, .393, .210, .441, .040, .020, .063,
    .076, .015, .040, .051, .234, .051, .475, .173, .590, .076,
    .020, .020, .020, .051, .246, .515, .076, .124, .100, .173,
    .124, .100, .076, .185, .700, .320, .515, .720, .417, .850,
    .690, .124, .470, .124, .440, .500, .417, .960, .051, .010,
    .810, .661, .088, 1.155, .271, .800, .970, .002, 1.005, 1.110,
    .271, .840, .780, .700, .990, .980, .588, .563, .700, .271,
    .650, .222, .980, .149, .690, .344, .124, .539, .673, .368,
    .980, .124, .076, .100, .868, .030, .124, .445, .966, .100,
    1.120, .051, .198, .330, .124, .027, .575, .665, .429, .539,
    .149, .968, .076, .015, .051, .360, .100, .220, .051, .020,
    .250, .063, .051, .063, .015, .970, .015, .051, .090, .094,
    .094, .090, .090, .094, .090, .094, .085, .094, .080, .090,
    .090, .015, .060, .015, .051, .430, .420, .430, .320, .540,
    .560, .540, .480, .300, .505, .530, .480, .600, .240, .460,
    .560, .530, .360, .040, .040, .030, .030, .020, .030, .020,
    .030, .020]
C_KNN = [
    .649, .941, .539, .905, .710, .515, .588, .759, .710, .246,
    .637, .417, .978, .112, .441, .100, .954, .685, .344, .210,
    .576, .100, .539, .649, .588, .856, .941, .734, .637, .856,
    .088, .051, .051, .466, .868, .271, .820, .320, .002, .673,
    .539, .441, .624, .051, .820, .637, .954, .490, .076, .124,
    .173, .076, .527, .271, .673, .271, .673, .649, .149, .600,
    .124, .088, .539, .088, .161, .490, .076, .466, .490, .124,
    .124, .015, .295, .124, .539, .283, .661, .807, .734, .710,
    .124, .100, .588, .185, .490, .149, .368, .246, .149, .295,
    .124, .698, .490, .441, .393, .368, .271, .124, .124, .051,
    .685, .149, .124, .088, .057, .039, .576, .149, .100, .222,
    .124, .478, .198, .076, .478, .149, .076, .112, .088, .368,
    .051, .173, .063, .246, .076, .124, .063, .320, .234, .124,
    .637, .051, .088, .539, .027, .271, .295, .515, .039, .124,
    .051, .076, .490, .246, .393, .210, .441, .051, .051, .063,
    .076, .015, .051, .051, .234, .051, .466, .173, .576, .076,
    .027, .027, .027, .051, .246, .502, .076, .124, .100, .173,
    .124, .100, .076, .185, .685, .320, .515, .685, .417, .820,
    .661, .124, .466, .124, .429, .490, .417, .954, .051, .015,
    .783, .661, .088, 1.149, .271, .795, .966, .002, 1.002, 1.100,
    .271, .832, .759, .673, .954, .929, .588, .563, .685, .271,
    .637, .222, .978, .149, .685, .344, .124, .539, .673, .368,
    .978, .124, .076, .100, .868, .051, .124, .441, .966, .100,
    1.112, .051, .198, .295, .124, .027, .563, .661, .429, .539,
    .149, .966, .076, .015, .051, .344, .100, .198, .051, .027,
    .222, .063, .051, .063, .015, .954, .015, .051, .015, .039,
    .051, .051, .015, .021, .015, .027, .015, .027, .063, .033,
    .051, .015, .051, .015, .051, .441, .429, .441, .344, .563,
    .588, .551, .490, .320, .515, .539, .490, .600, .246, .466,
    .563, .539, .368, .076, .039, .027, .051, .027, .051, .033,
    .051, .039]

# ---------------- labels ----------------
MODEL_NAMES = ["ANN", "DT", "RF", "KNN"]
COLORS = ["#000000", "#00B0F0", "#FF0000", "#7030A0", "#92D050"]
X_TICKS = [3160, 3210, 3260, 3310, 3360, 3410]

PANELS = [
    dict(depth=A_DEPTH, series=[A_ACTUAL, A_ANN, A_DT, A_RF, A_KNN],
         names=["Actual_PHI"] + MODEL_NAMES,
         title="Porosity - atcual vs Predicted", ytitle="Porosity",
         yrange=[0, 0.2196], dtick=0.05, letter="a"),
    dict(depth=B_DEPTH, series=[B_ACTUAL, B_ANN, B_DT, B_RF, B_KNN],
         names=["Actual"] + MODEL_NAMES,
         title="Effective Porosity - atcual vs predicted", ytitle="Effective Porosity",
         yrange=[0, 0.35], dtick=0.05, letter="b"),
    dict(depth=C_DEPTH, series=[C_ACTUAL, C_ANN, C_DT, C_RF, C_KNN],
         names=["Actual_VSHALE"] + MODEL_NAMES,
         title="Volume os Shale- atcual vs predicted", ytitle="Volume os Shale",
         yrange=[0, 1.2], dtick=0.2, letter="c"),
]

# pixel geometry of each panel (layout only)
GEOM = [
    dict(plot=(120.5, 77, 1295, 407), box=(10, 8, 1326, 546), title=(667, 45),
         xt=(711, 463), yt=(33, 241), leg_y=506, leg_x=[362, 552, 679, 788, 895],
         lbox=(36, 483, 108, 535)),
    dict(plot=(120.5, 612.7, 1295, 934), box=(10, 548, 1326, 1067), title=(695, 576),
         xt=(711, 990), yt=(33, 773), leg_y=1029, leg_x=[387.5, 530, 656.5, 763.5, 869],
         lbox=(24.5, 1007, 97, 1059)),
    dict(plot=(116, 1141.6, 1295, 1469.3), box=(5, 1074, 1326, 1597), title=(662, 1108),
         xt=(708, 1525), yt=(41, 1306), leg_y=1568, leg_x=[336, 568, 697, 808, 915],
         lbox=(29, 1542, 102, 1595)),
]
LEG_LINE = 52
LEG_GAP = 6
LINE_W = 2.7


def px(x):
    return x / W


def py(y):
    return 1 - y / H


FONT = "Lato, 'Open Sans', sans-serif"
fig = go.Figure()
layout = dict(width=W, height=H,
              margin=dict(l=0, r=0, t=0, b=0, pad=0, autoexpand=False),
              paper_bgcolor="white", plot_bgcolor="white", showlegend=False,
              font=dict(family=FONT, color="#000000"),
              annotations=[], shapes=[])

for i, (p, g) in enumerate(zip(PANELS, GEOM)):
    sfx = "" if i == 0 else str(i + 1)
    for name, vals, col in zip(p["names"], p["series"], COLORS):
        fig.add_trace(go.Scatter(
            x=p["depth"], y=vals, name=name, mode="lines",
            line=dict(color=col, width=LINE_W),
            xaxis="x" + sfx, yaxis="y" + sfx, showlegend=False))
    x0, y0, x1, y1 = g["plot"]
    layout["xaxis" + sfx] = dict(
        domain=[px(x0), px(x1)], anchor="y" + sfx, range=[3160, 3410],
        tickmode="array", tickvals=X_TICKS, automargin=False,
        showgrid=True, gridcolor="#d9d9d9", gridwidth=2,
        showline=True, linecolor="#bfbfbf", linewidth=3, zeroline=False,
        ticks="outside", ticklen=8, tickcolor="rgba(0,0,0,0)",
        tickfont=dict(family=FONT, size=21, color="#000000"))
    layout["yaxis" + sfx] = dict(
        domain=[py(y1), py(y0)], anchor="x" + sfx, range=p["yrange"],
        dtick=p["dtick"], tick0=0, automargin=False,
        showgrid=True, gridcolor="#d9d9d9", gridwidth=2,
        showline=True, linecolor="#bfbfbf", linewidth=3, zeroline=False,
        ticks="outside", ticklen=18, tickcolor="rgba(0,0,0,0)",
        tickfont=dict(family=FONT, size=21, color="#000000"))
    # panel frame
    bx0, by0, bx1, by1 = g["box"]
    layout["shapes"].append(dict(
        type="rect", xref="paper", yref="paper",
        x0=px(bx0), x1=px(bx1), y0=py(by1), y1=py(by0),
        line=dict(color="#d9d9d9", width=2.5), layer="below"))
    # legend (line sample + series name)
    ann = layout["annotations"]
    for name, col, lx in zip(p["names"], COLORS, g["leg_x"]):
        layout["shapes"].append(dict(
            type="line", xref="paper", yref="paper",
            x0=px(lx), x1=px(lx + LEG_LINE), y0=py(g["leg_y"]), y1=py(g["leg_y"]),
            line=dict(color=col, width=LINE_W)))
        ann.append(dict(text=name, x=px(lx + LEG_LINE + LEG_GAP), y=py(g["leg_y"]),
                        xref="paper", yref="paper", showarrow=False,
                        xanchor="left", yanchor="middle",
                        font=dict(family=FONT, size=21.5, color="#000000")))
    # rounded label box
    lx0, ly0, lx1, ly1 = g["lbox"]
    r = 9
    pts = [
        f"M {px(lx0 + r)},{py(ly0)}", f"L {px(lx1 - r)},{py(ly0)}",
        f"Q {px(lx1)},{py(ly0)} {px(lx1)},{py(ly0 + r)}",
        f"L {px(lx1)},{py(ly1 - r)}",
        f"Q {px(lx1)},{py(ly1)} {px(lx1 - r)},{py(ly1)}",
        f"L {px(lx0 + r)},{py(ly1)}",
        f"Q {px(lx0)},{py(ly1)} {px(lx0)},{py(ly1 - r)}",
        f"L {px(lx0)},{py(ly0 + r)}",
        f"Q {px(lx0)},{py(ly0)} {px(lx0 + r)},{py(ly0)} Z"]
    layout["shapes"].append(dict(
        type="path", xref="paper", yref="paper", path=" ".join(pts),
        line=dict(color="#000000", width=2.5), fillcolor="white"))
    ann.append(dict(text=p["letter"], x=px((lx0 + lx1) / 2), y=py((ly0 + ly1) / 2),
                    xref="paper", yref="paper", showarrow=False,
                    xanchor="center", yanchor="middle",
                    font=dict(family=FONT, size=26, color="#000000")))
    ann.append(dict(text="<b>" + p["title"] + "</b>", x=px(g["title"][0]), y=py(g["title"][1]),
                    xref="paper", yref="paper", showarrow=False,
                    xanchor="center", yanchor="middle",
                    font=dict(family=FONT, size=34.5, color="#000000")))
    ann.append(dict(text="<b>Depth (m)</b>", x=px(g["xt"][0]), y=py(g["xt"][1]),
                    xref="paper", yref="paper", showarrow=False,
                    xanchor="center", yanchor="middle",
                    font=dict(family=FONT, size=25.5, color="#000000")))
    ann.append(dict(text="<b>" + p["ytitle"] + "</b>", x=px(g["yt"][0]), y=py(g["yt"][1]),
                    xref="paper", yref="paper", showarrow=False, textangle=-90,
                    xanchor="center", yanchor="middle",
                    font=dict(family=FONT, size=25, color="#000000")))

fig.update_layout(**layout)
# remove the default page margin so the 1329x1599 figure fills the window exactly
fig.write_html("out.html",
               config={"displayModeBar": False},
               post_script="document.body.style.margin='0';"
                           "document.body.style.overflow='hidden';")
